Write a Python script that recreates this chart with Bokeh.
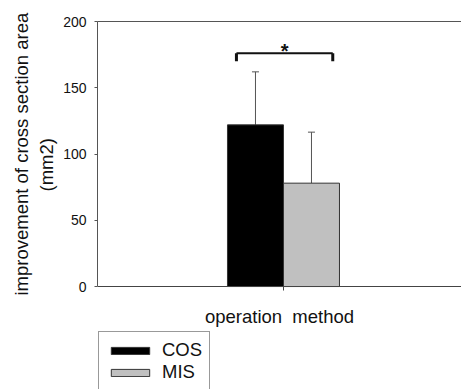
from bokeh.plotting import figure
from bokeh.models import (Range1d, LinearAxis, FixedTicker, Whisker, TeeHead,
                          ColumnDataSource, Legend, LegendItem, Title)
from bokeh.embed import file_html
from bokeh.resources import INLINE
from bokeh.core.properties import value

# ---- data ----
groups = ["COS", "MIS"]
means = [122, 78]
errors = [40, 38.5]
bar_x = [-0.5, 0.5]
colors = ["#000000", "#c0c0c0"]
y_ticks = [0, 50, 100, 150, 200]
x_label = "operation \u00a0method"
y_label_lines = ["improvement of cross section area", "(mm2)"]
sig_label = ["*"]
bracket_x = [-0.84, 0.88]
bracket_y = 176
bracket_drop = 170
star_x = [0.02]
star_y = [178]

FONT = "Liberation Sans"

p = figure(width=461, height=389, x_range=Range1d(-3.321, 3.179), y_range=Range1d(-77.7, 200),
           output_backend="svg", toolbar_location=None,
           min_border_left=97, min_border_right=0, min_border_top=21, min_border_bottom=0)
p.outline_line_color = None
p.grid.visible = False
p.background_fill_color = "white"
p.border_fill_color = "white"

src = ColumnDataSource(dict(x=bar_x, top=means, lower=means,
                            upper=[m + e for m, e in zip(means, errors)],
                            color=colors, name=groups))

bars = p.vbar(x="x", top="top", width=1.0, bottom=0, fill_color="color",
              line_color="#333333", line_width=1, source=src)

wh = Whisker(base="x", lower="lower", upper="upper", source=src,
             line_color="#555555", line_width=1,
             upper_head=TeeHead(size=7, line_color="#555555", line_width=1),
             lower_head=None)
p.add_layout(wh)

# significance bracket
p.segment(x0=[bracket_x[0]], y0=[bracket_y], x1=[bracket_x[1]], y1=[bracket_y],
          line_color="#111111", line_width=2)
p.segment(x0=bracket_x, y0=[bracket_y, bracket_y], x1=bracket_x, y1=[bracket_drop, bracket_drop],
          line_color="#111111", line_width=3)
p.text(x=star_x, y=star_y, text=sig_label, text_font=value(FONT), text_font_size="20px",
       text_font_style="bold", text_align="center", text_baseline="middle", text_color="#111111")

# axes
xa = p.xaxis[0]
xa.fixed_location = 0
xa.ticker = FixedTicker(ticks=[0])
xa.major_label_overrides = {0: ""}
xa.major_label_text_font_size = "1px"
xa.major_tick_out = 4
xa.major_tick_in = 0
xa.minor_tick_line_color = None
xa.axis_line_color = "#444444"
xa.major_tick_line_color = "#444444"
xa.axis_label = x_label
xa.axis_label_text_font = FONT
xa.axis_label_text_font_size = "18.5px"
xa.axis_label_text_font_style = "normal"
xa.axis_label_text_color = "#111111"
xa.axis_label_standoff = 15

ya = p.yaxis[0]
ya.bounds = (0, 200)
ya.ticker = FixedTicker(ticks=y_ticks)
ya.major_tick_out = 3
ya.major_tick_in = 0
ya.minor_tick_line_color = None
ya.axis_line_color = "#555555"
ya.major_tick_line_color = "#555555"
ya.major_label_text_font = FONT
ya.major_label_text_font_size = "14px"
ya.major_label_text_color = "#111111"
ya.major_label_standoff = 8

# y-axis title as two rotated lines in the left panel
t2 = Title(text=y_label_lines[1], align="left", offset=198, vertical_align="middle",
           text_font=FONT, text_font_size="18.5px", text_font_style="normal",
           text_color="#111111", standoff=5)
t1 = Title(text=y_label_lines[0], align="left", offset=94, vertical_align="middle",
           text_font=FONT, text_font_size="18.5px", text_font_style="normal",
           text_color="#111111", standoff=0)
p.add_layout(t2, "left")
p.add_layout(t1, "left")

top_axis = LinearAxis(ticker=FixedTicker(ticks=[]), major_label_text_font_size="0px",
                      major_tick_line_color=None, minor_tick_line_color=None,
                      axis_line_color="#555555")
p.add_layout(top_axis, "above")

legend = Legend(items=[LegendItem(label=groups[0], renderers=[bars], index=0),
                       LegendItem(label=groups[1], renderers=[bars], index=1)],
                location=(1, -2), orientation="vertical", padding=7, spacing=0,
                glyph_width=48, glyph_height=9, label_height=22, label_standoff=8,
                label_text_font=FONT, label_text_font_size="18.5px", label_text_color="#111111",
                border_line_color="#333333", border_line_width=1, margin=0,
                background_fill_alpha=1.0)
p.add_layout(legend, "center")

open("out.html", "w").write(file_html(p, INLINE))
